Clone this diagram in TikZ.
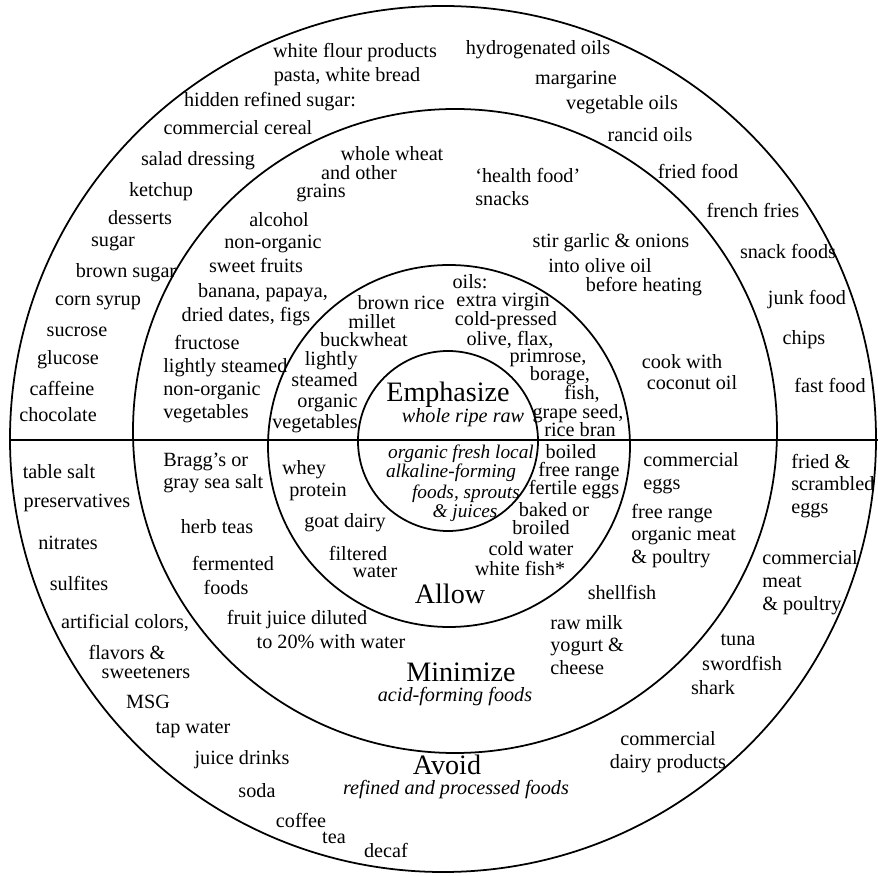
\documentclass[tikz,border=0pt]{standalone}
\usepackage{fontspec}
\setmainfont{Liberation Serif}

\begin{document}
\begin{tikzpicture}[
    food/.style={font=\fontsize{11.5}{13}\selectfont, inner sep=0pt},
    hint/.style={font=\fontsize{11.5}{13}\selectfont\itshape, inner sep=0pt, anchor=base},
    zone/.style={font=\fontsize{16}{19}\selectfont, inner sep=0pt, anchor=base},
    ring/.style={line width=1pt}
]

\useasboundingbox (-8.9,-8.7) rectangle (8.66,8.8);

% ── Rings and dividing line ────────────────────────────────
\draw[ring] (-0.04,0.02) circle (8.66);
\draw[ring] (0.20,0.18) circle (6.44);
\draw[ring] (0.08,-0.12) circle (3.62);
\draw[ring] (0.06,-0.02) circle (1.80);
\draw[ring] (-8.70,0) -- (8.66,0);

% ── Centre: Emphasize ──────────────────────────────────────
\node[zone] (emphasize) at (0.06,0.76) {Emphasize};
\node[hint] (wholeraw)  at (0.36,0.34) {whole ripe raw};
\node[food, font=\fontsize{11}{13}\selectfont\itshape] (orgfresh)
    at (0.32,-0.27) {organic fresh local};
\node[food, font=\fontsize{11}{13}\selectfont\itshape] (alkaline)
    at (0.12,-0.66) {alkaline-forming};
\node[food, font=\fontsize{11}{13}\selectfont\itshape] (sprouts)
    at (0.42,-1.07) {foods, sprouts};
\node[food, font=\fontsize{11}{13}\selectfont\itshape] (juices)
    at (0.40,-1.47) {\& juices};

% ── Allow ring ─────────────────────────────────────────────
\node[food] (brownrice) at (-0.88,2.74) {brown rice};
\node[food] (millet)    at (-1.46,2.36) {millet};
\node[food] (buckwheat) at (-1.62,2.00) {buckwheat};
\node[food, font=\fontsize{11.5}{12}\selectfont, align=right, anchor=east]
    (orgveg) at (-1.74,0.96) {lightly\\steamed\\organic\\vegetables};

\node[food] (oils)        at (0.50,3.16) {oils:};
\node[food] (extravirgin) at (1.16,2.76) {extra virgin};
\node[food] (coldpressed) at (1.22,2.38) {cold-pressed};
\node[food] (oliveflax)   at (1.30,2.01) {olive, flax,};
\node[food] (primrose)    at (2.06,1.65) {primrose,};
\node[food] (borage)      at (2.30,1.29) {borage,};
\node[food] (fish)        at (2.74,0.93) {fish,};
\node[food] (grapeseed)   at (2.66,0.52) {grape seed,};
\node[food] (ricebran)    at (2.70,0.20) {rice bran};

\node[food] (whey)      at (-2.82,-0.60) {whey};
\node[food] (protein)   at (-2.54,-1.04) {protein};
\node[food] (goatdairy) at (-2.00,-1.66) {goat dairy};
\node[food] (filtered)  at (-1.74,-2.26) {filtered};
\node[food] (water)     at (-1.40,-2.64) {water};

\node[food] (boiled)    at (2.52,-0.24) {boiled};
\node[food] (freerange) at (2.68,-0.64) {free range};
\node[food] (fertile)   at (2.58,-1.00) {fertile eggs};
\node[food] (baked)     at (2.18,-1.40) {baked or};
\node[food] (broiled)   at (1.92,-1.76) {broiled};
\node[food] (coldwater) at (1.72,-2.17) {cold water};
\node[food] (whitefish) at (1.50,-2.57) {white fish*};

\node[zone] (allow) at (0.10,-3.26) {Allow};

% ── Minimize ring ──────────────────────────────────────────
\node[food] (wholewheat)  at (-1.06,5.72) {whole wheat};
\node[food] (andother)    at (-1.72,5.34) {and other};
\node[food] (grains)      at (-2.48,4.94) {grains};
\node[food] (alcohol)     at (-3.32,4.40) {alcohol};
\node[food] (nonorganic)  at (-3.44,3.92) {non-organic};
\node[food] (sweetfruits) at (-3.78,3.50) {sweet fruits};
\node[food] (banana)      at (-3.64,2.94) {banana, papaya,};
\node[food] (dates)       at (-3.98,2.46) {dried dates, figs};
\node[food] (fructose)    at (-4.76,1.96) {fructose};
\node[food, align=left, anchor=west] (nonorgveg) at (-5.64,0.98)
    {lightly steamed\\non-organic\\vegetables};

\node[food, align=left, anchor=west] (healthfood) at (0.60,5.06)
    {`health food'\\snacks};
\node[food] (stirgarlic) at (3.32,3.94) {stir garlic \& onions};
\node[food] (oliveoil)   at (3.10,3.48) {into olive oil};
\node[food] (beforeheat) at (3.98,3.06) {before heating};
\node[food] (cookwith)   at (4.74,1.56) {cook with};
\node[food] (coconut)    at (4.94,1.14) {coconut oil};

\node[food, align=left, anchor=west] (braggs) at (-5.64,-0.66)
    {Bragg's or\\gray sea salt};
\node[food] (herbteas)   at (-4.56,-1.74) {herb teas};
\node[food] (fermented)  at (-4.24,-2.46) {fermented};
\node[food] (fermfoods)  at (-4.38,-2.94) {foods};
\node[food] (fruitjuice) at (-2.96,-3.60) {fruit juice diluted};
\node[food] (dilution)   at (-2.28,-4.04) {to 20\% with water};

\node[food, align=left, anchor=west] (commeggs) at (3.96,-0.66)
    {commercial\\eggs};
\node[food, align=left, anchor=west] (freemeat) at (3.72,-1.92)
    {free range\\organic meat\\\& poultry};
\node[food] (shellfish) at (3.54,-3.04) {shellfish};
\node[food, align=left, anchor=west] (rawmilk) at (2.10,-4.10)
    {raw milk\\yogurt \&\\cheese};

\node[zone] (minimize)    at (0.32,-4.83) {Minimize};
\node[hint] (minimizesub) at (0.20,-5.23) {acid-forming foods};

% ── Avoid ring ─────────────────────────────────────────────
\node[food] (flour)      at (-1.80,7.74) {white flour products};
\node[food] (pasta)      at (-1.96,7.26) {pasta, white bread};
\node[food] (hidden)     at (-3.50,6.76) {hidden refined sugar:};
\node[food] (cereal)     at (-4.14,6.24) {commercial cereal};
\node[food] (dressing)   at (-4.94,5.58) {salad dressing};
\node[food] (ketchup)    at (-5.68,4.96) {ketchup};
\node[food] (desserts)   at (-6.10,4.44) {desserts};
\node[food] (sugar)      at (-6.64,3.92) {sugar};
\node[food] (brownsugar) at (-6.38,3.34) {brown sugar};
\node[food] (cornsyrup)  at (-6.94,2.74) {corn syrup};
\node[food] (sucrose)    at (-7.36,2.16) {sucrose};
\node[food] (glucose)    at (-7.54,1.60) {glucose};
\node[food] (caffeine)   at (-7.66,1.04) {caffeine};
\node[food] (chocolate)  at (-7.74,0.50) {chocolate};

\node[food] (hydro)      at (1.86,7.80) {hydrogenated oils};
\node[food] (margarine)  at (2.62,7.20) {margarine};
\node[food] (vegoils)    at (3.54,6.70) {vegetable oils};
\node[food] (rancid)     at (4.10,6.10) {rancid oils};
\node[food] (friedfood)  at (5.06,5.38) {fried food};
\node[food] (fries)      at (6.16,4.60) {french fries};
\node[food] (snackfoods) at (6.86,3.78) {snack foods};
\node[food] (junkfood)   at (7.24,2.80) {junk food};
\node[food] (chips)      at (7.18,2.00) {chips};
\node[food] (fastfood)   at (7.70,1.10) {fast food};

\node[food] (tablesalt)   at (-7.72,-0.64) {table salt};
\node[food] (preserv)     at (-7.36,-1.26) {preservatives};
\node[food] (nitrates)    at (-7.54,-2.06) {nitrates};
\node[food] (sulfites)    at (-7.32,-2.86) {sulfites};
\node[food] (artificial)  at (-6.40,-3.66) {artificial colors,};
\node[food] (flavors)     at (-6.36,-4.24) {flavors \&};
\node[food] (sweeteners)  at (-5.98,-4.66) {sweeteners};
\node[food] (msg)         at (-5.94,-5.24) {MSG};
\node[food] (tapwater)    at (-5.04,-5.80) {tap water};
\node[food] (juicedrinks) at (-4.06,-6.40) {juice drinks};
\node[food] (soda)        at (-3.76,-7.02) {soda};
\node[food] (coffee)      at (-2.88,-7.60) {coffee};
\node[food] (tea)         at (-2.22,-7.96) {tea};
\node[food] (decaf)       at (-1.18,-8.20) {decaf};

\node[food, align=left, anchor=west] (friedeggs) at (6.92,-0.92)
    {fried \&\\scrambled\\eggs};
\node[food, align=left, anchor=west] (commmeat) at (6.34,-2.86)
    {commercial\\meat\\\& poultry};
\node[food] (tuna)      at (5.86,-4.00) {tuna};
\node[food] (swordfish) at (5.94,-4.46) {swordfish};
\node[food] (shark)     at (5.36,-4.96) {shark};
\node[food, align=center] (commdairy) at (4.46,-6.24)
    {commercial\\dairy products};

\node[zone] (avoid)    at (0.04,-6.68) {Avoid};
\node[hint] (avoidsub) at (0.22,-7.08) {refined and processed foods};

\end{tikzpicture}
\end{document}
